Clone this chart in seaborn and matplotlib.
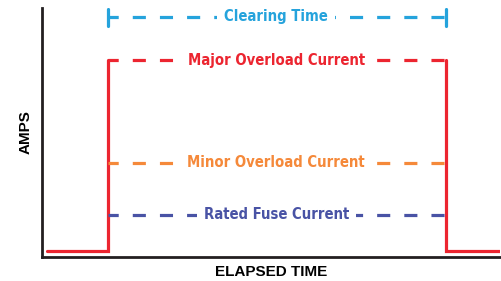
import matplotlib
matplotlib.use("Agg")
import matplotlib.pyplot as plt
import pandas as pd
import seaborn as sns

# Current trace (time vs amps), solid parts of the red curve
trace_time = [1, 14.4, 14.4]
trace_amps = [2.5, 2.5, 79]
trace_time_end = [88.3, 88.3, 100]
trace_amps_end = [79, 2.5, 2.5]

# Fuse start / clear times
t_start = 14.4
t_clear = 88.3

# Dashed reference levels
level_names = ["Clearing Time", "Major Overload Current",
               "Minor Overload Current", "Rated Fuse Current"]
level_amps = [96.4, 79, 37.8, 17]
level_colors = ["#25a3dc", "#ec2530", "#f5893a", "#4953a5"]

sns.set_theme(style="white")
plt.rcParams["font.family"] = ["DejaVu Sans"]

fig = plt.figure(figsize=(5.02, 2.81), dpi=100)
ax = fig.add_axes([42 / 502, 24 / 281, 458 / 502, 249 / 281])

red = level_colors[1]
df_a = pd.DataFrame({"time": trace_time, "amps": trace_amps})
df_b = pd.DataFrame({"time": trace_time_end, "amps": trace_amps_end})
sns.lineplot(data=df_a, x="time", y="amps", sort=False, estimator=None,
             color=red, linewidth=2.3, ax=ax, solid_joinstyle="miter")
sns.lineplot(data=df_b, x="time", y="amps", sort=False, estimator=None,
             color=red, linewidth=2.3, ax=ax, solid_joinstyle="miter")

for name, y, c in zip(level_names, level_amps, level_colors):
    ax.plot([t_start, t_clear], [y, y], color=c, linewidth=2.3,
            linestyle=(0.9, (4.1, 4.4)), zorder=2)
    ax.text((t_start + t_clear) / 2 - 0.2, y, name, color=c, fontsize=10.6,
            fontweight="bold", fontstretch="condensed", ha="center",
            va="center", zorder=3,
            bbox=dict(facecolor="white", edgecolor="none", pad=5))

# end ticks on the clearing-time bar
for t in [t_start, t_clear]:
    ax.plot([t, t], [92.8, 99.6], color=level_colors[0], linewidth=2.3)

ax.set_xlim(0, 100)
ax.set_ylim(0, 100)
ax.set_xticks([])
ax.set_yticks([])
for s in ["top", "right"]:
    ax.spines[s].set_visible(False)
for s in ["left", "bottom"]:
    ax.spines[s].set_color("#231f20")
    ax.spines[s].set_linewidth(2)

ax.set_xlabel("ELAPSED TIME", fontsize=11, fontweight="bold", color="black",
              family=["Liberation Sans", "DejaVu Sans"], labelpad=6)
ax.set_ylabel("AMPS", fontsize=11, fontweight="bold", color="black",
              family=["Liberation Sans", "DejaVu Sans"], labelpad=7)

fig.savefig("out.png", dpi=100)
